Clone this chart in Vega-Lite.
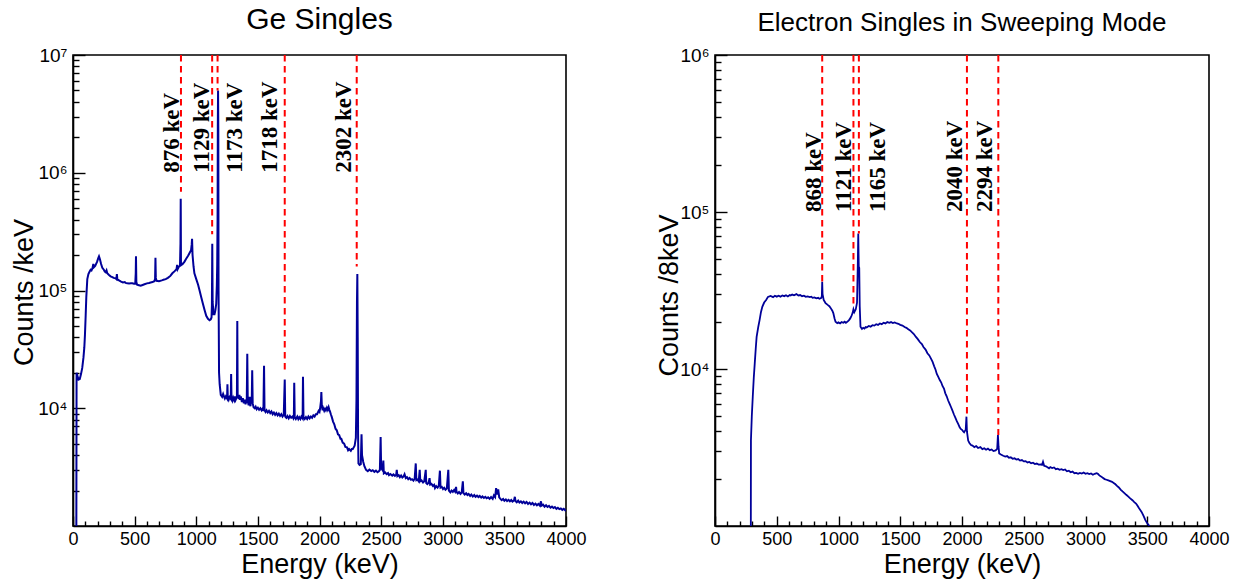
{
  "$schema": "https://vega.github.io/schema/vega-lite/v6.json",
  "autosize": {"type": "pad"},
  "padding": {"left": 9, "top": 3, "right": 5, "bottom": 5},
  "background": "white",
  "spacing": 149,
  "bounds": "flush",
  "config": {
    "view": {"stroke": "black", "strokeWidth": 1.6},
    "font": "Liberation Sans",
    "axis": {
      "grid": false,
      "domainColor": "black",
      "domainWidth": 1.6,
      "tickColor": "black",
      "tickWidth": 1.4,
      "labelColor": "black",
      "labelFont": "Liberation Sans",
      "labelFontSize": 18,
      "labelOverlap": false,
      "labelFlush": false,
      "titleColor": "black",
      "titleFont": "Liberation Sans",
      "titleFontSize": 27,
      "titleFontWeight": "normal"
    }
  },
  "datasets": {
    "ge": [
      {"E":27,"c":800},{"E":29,"c":20000},{"E":35,"c":19000},{"E":45,"c":17500},{"E":55,"c":17700},{"E":65,"c":19500},{"E":75,"c":22000},{"E":85,"c":27000},{"E":92,"c":33000},{"E":97,"c":42000},{"E":103,"c":62000},{"E":108,"c":88000},{"E":116,"c":125000},{"E":125,"c":138000},{"E":135,"c":145000},{"E":143,"c":150000},{"E":150,"c":148000},{"E":158,"c":155000},{"E":165,"c":168000},{"E":170,"c":158000},{"E":180,"c":162000},{"E":195,"c":175000},{"E":205,"c":188000},{"E":211,"c":195000},{"E":218,"c":185000},{"E":228,"c":168000},{"E":238,"c":156000},{"E":250,"c":150000},{"E":258,"c":145000},{"E":265,"c":143000},{"E":272,"c":148000},{"E":278,"c":140000},{"E":290,"c":136000},{"E":305,"c":132000},{"E":319,"c":130000},{"E":330,"c":128000},{"E":345,"c":127000},{"E":352,"c":125000},{"E":356,"c":138000},{"E":360,"c":124000},{"E":373,"c":122000},{"E":390,"c":119000},{"E":405,"c":117000},{"E":420,"c":118000},{"E":427,"c":116000},{"E":440,"c":115000},{"E":455,"c":114500},{"E":470,"c":115000},{"E":481,"c":115000},{"E":495,"c":114000},{"E":505,"c":114000},{"E":509,"c":140000},{"E":511,"c":195000},{"E":514,"c":118000},{"E":520,"c":112000},{"E":535,"c":111000},{"E":549,"c":110000},{"E":565,"c":111500},{"E":580,"c":113000},{"E":600,"c":115000},{"E":617,"c":116000},{"E":630,"c":117000},{"E":645,"c":118000},{"E":660,"c":120000},{"E":666,"c":125000},{"E":669,"c":190000},{"E":672,"c":128000},{"E":678,"c":121000},{"E":698,"c":120000},{"E":720,"c":122000},{"E":740,"c":124000},{"E":752,"c":125000},{"E":770,"c":128000},{"E":790,"c":133000},{"E":806,"c":140000},{"E":825,"c":146000},{"E":840,"c":152000},{"E":845,"c":165000},{"E":849,"c":152000},{"E":860,"c":160000},{"E":868,"c":162000},{"E":872,"c":250000},{"E":874,"c":600000},{"E":876,"c":170000},{"E":880,"c":165000},{"E":890,"c":168000},{"E":905,"c":176000},{"E":917,"c":185000},{"E":935,"c":198000},{"E":950,"c":212000},{"E":958,"c":220000},{"E":963,"c":245000},{"E":966,"c":275000},{"E":970,"c":200000},{"E":978,"c":160000},{"E":985,"c":140000},{"E":1000,"c":125000},{"E":1015,"c":112000},{"E":1027,"c":100000},{"E":1040,"c":88000},{"E":1054,"c":77000},{"E":1068,"c":68000},{"E":1081,"c":61000},{"E":1095,"c":57500},{"E":1108,"c":56000},{"E":1118,"c":57000},{"E":1124,"c":59000},{"E":1127,"c":75000},{"E":1130,"c":250000},{"E":1133,"c":80000},{"E":1140,"c":63000},{"E":1148,"c":63000},{"E":1155,"c":68000},{"E":1162,"c":77000},{"E":1167,"c":110000},{"E":1170,"c":166000},{"E":1173,"c":400000},{"E":1175,"c":2500000},{"E":1177,"c":5000000},{"E":1179,"c":2400000},{"E":1181,"c":100000},{"E":1185,"c":20000},{"E":1190,"c":16000},{"E":1199,"c":13000},{"E":1210,"c":12500},{"E":1218,"c":13200},{"E":1225,"c":12600},{"E":1232,"c":12100},{"E":1240,"c":12600},{"E":1250,"c":12100},{"E":1253,"c":16000},{"E":1256,"c":12300},{"E":1263,"c":11800},{"E":1270,"c":12400},{"E":1280,"c":12000},{"E":1283,"c":19500},{"E":1286,"c":12200},{"E":1293,"c":11600},{"E":1300,"c":12300},{"E":1308,"c":11700},{"E":1315,"c":12600},{"E":1320,"c":11800},{"E":1330,"c":12500},{"E":1333,"c":55000},{"E":1336,"c":13000},{"E":1345,"c":12000},{"E":1350,"c":13000},{"E":1355,"c":11800},{"E":1362,"c":12600},{"E":1370,"c":11300},{"E":1378,"c":12200},{"E":1386,"c":11000},{"E":1393,"c":11800},{"E":1400,"c":10800},{"E":1410,"c":12000},{"E":1414,"c":29000},{"E":1418,"c":11500},{"E":1425,"c":10600},{"E":1430,"c":12500},{"E":1435,"c":11000},{"E":1440,"c":10400},{"E":1446,"c":12500},{"E":1450,"c":11000},{"E":1454,"c":21000},{"E":1458,"c":11000},{"E":1465,"c":10200},{"E":1474,"c":10000},{"E":1482,"c":10300},{"E":1490,"c":9800},{"E":1500,"c":10100},{"E":1510,"c":9700},{"E":1520,"c":10000},{"E":1530,"c":9600},{"E":1538,"c":9900},{"E":1545,"c":9500},{"E":1550,"c":23000},{"E":1554,"c":9600},{"E":1562,"c":9300},{"E":1570,"c":9600},{"E":1580,"c":9200},{"E":1590,"c":9500},{"E":1600,"c":9100},{"E":1610,"c":9400},{"E":1620,"c":8900},{"E":1630,"c":9200},{"E":1640,"c":8800},{"E":1650,"c":9100},{"E":1660,"c":8700},{"E":1670,"c":9000},{"E":1680,"c":8600},{"E":1690,"c":8900},{"E":1700,"c":8500},{"E":1710,"c":8800},{"E":1718,"c":17500},{"E":1722,"c":8500},{"E":1731,"c":8300},{"E":1740,"c":8600},{"E":1750,"c":8200},{"E":1760,"c":8600},{"E":1770,"c":8300},{"E":1780,"c":8500},{"E":1788,"c":8200},{"E":1792,"c":8500},{"E":1795,"c":16500},{"E":1799,"c":8400},{"E":1808,"c":8100},{"E":1820,"c":8500},{"E":1828,"c":8100},{"E":1836,"c":8400},{"E":1845,"c":8100},{"E":1853,"c":8500},{"E":1863,"c":8200},{"E":1866,"c":18500},{"E":1870,"c":8400},{"E":1880,"c":8100},{"E":1890,"c":8400},{"E":1900,"c":8100},{"E":1910,"c":8500},{"E":1920,"c":8200},{"E":1930,"c":8500},{"E":1940,"c":8300},{"E":1950,"c":8700},{"E":1960,"c":8500},{"E":1970,"c":8900},{"E":1980,"c":8900},{"E":1993,"c":9500},{"E":2000,"c":9300},{"E":2005,"c":10000},{"E":2012,"c":11500},{"E":2015,"c":13700},{"E":2019,"c":10500},{"E":2025,"c":9600},{"E":2030,"c":10000},{"E":2038,"c":9500},{"E":2045,"c":9900},{"E":2052,"c":9600},{"E":2060,"c":10100},{"E":2067,"c":9700},{"E":2074,"c":10200},{"E":2080,"c":9700},{"E":2085,"c":9400},{"E":2092,"c":8900},{"E":2100,"c":8400},{"E":2110,"c":7700},{"E":2120,"c":7300},{"E":2130,"c":6700},{"E":2140,"c":6500},{"E":2150,"c":6000},{"E":2160,"c":5900},{"E":2170,"c":5500},{"E":2177,"c":5500},{"E":2188,"c":5100},{"E":2200,"c":5000},{"E":2210,"c":4700},{"E":2223,"c":4650},{"E":2232,"c":4400},{"E":2240,"c":4500},{"E":2254,"c":4350},{"E":2262,"c":4500},{"E":2270,"c":4500},{"E":2280,"c":4700},{"E":2285,"c":4800},{"E":2295,"c":5600},{"E":2300,"c":12000},{"E":2304,"c":80000},{"E":2307,"c":138000},{"E":2310,"c":40000},{"E":2313,"c":6000},{"E":2316,"c":3400},{"E":2325,"c":3300},{"E":2335,"c":3350},{"E":2341,"c":6000},{"E":2345,"c":4000},{"E":2355,"c":3500},{"E":2365,"c":3200},{"E":2378,"c":3000},{"E":2392,"c":2920},{"E":2405,"c":3010},{"E":2420,"c":2930},{"E":2432,"c":2980},{"E":2445,"c":2880},{"E":2458,"c":2950},{"E":2470,"c":2860},{"E":2482,"c":2920},{"E":2490,"c":3000},{"E":2496,"c":5700},{"E":2500,"c":3200},{"E":2506,"c":3050},{"E":2512,"c":2980},{"E":2518,"c":3600},{"E":2522,"c":2800},{"E":2532,"c":2850},{"E":2545,"c":2760},{"E":2556,"c":2820},{"E":2564,"c":2700},{"E":2575,"c":2760},{"E":2590,"c":2680},{"E":2600,"c":2740},{"E":2612,"c":2660},{"E":2622,"c":2720},{"E":2627,"c":3000},{"E":2632,"c":2650},{"E":2643,"c":2700},{"E":2652,"c":2600},{"E":2662,"c":2680},{"E":2672,"c":2580},{"E":2682,"c":2640},{"E":2690,"c":2750},{"E":2700,"c":2550},{"E":2710,"c":2600},{"E":2720,"c":2500},{"E":2731,"c":2560},{"E":2742,"c":2470},{"E":2751,"c":2500},{"E":2762,"c":2430},{"E":2772,"c":2520},{"E":2781,"c":3400},{"E":2786,"c":2450},{"E":2795,"c":2480},{"E":2805,"c":2400},{"E":2813,"c":3000},{"E":2818,"c":2400},{"E":2828,"c":2440},{"E":2840,"c":2340},{"E":2850,"c":2400},{"E":2862,"c":3000},{"E":2866,"c":2320},{"E":2875,"c":2270},{"E":2885,"c":2330},{"E":2893,"c":2550},{"E":2898,"c":2250},{"E":2908,"c":2280},{"E":2920,"c":2190},{"E":2930,"c":2240},{"E":2937,"c":2100},{"E":2947,"c":2180},{"E":2958,"c":2120},{"E":2968,"c":2200},{"E":2977,"c":2950},{"E":2982,"c":2120},{"E":2992,"c":2150},{"E":3002,"c":2060},{"E":3012,"c":2110},{"E":3022,"c":2030},{"E":3033,"c":2080},{"E":3045,"c":3000},{"E":3050,"c":2000},{"E":3062,"c":1930},{"E":3072,"c":2000},{"E":3082,"c":1950},{"E":3092,"c":2020},{"E":3100,"c":1960},{"E":3108,"c":2150},{"E":3112,"c":1950},{"E":3122,"c":1890},{"E":3132,"c":1940},{"E":3144,"c":1870},{"E":3154,"c":1930},{"E":3163,"c":2400},{"E":3168,"c":1900},{"E":3178,"c":1850},{"E":3190,"c":1900},{"E":3200,"c":1830},{"E":3210,"c":1870},{"E":3222,"c":1800},{"E":3232,"c":1850},{"E":3244,"c":1780},{"E":3256,"c":1830},{"E":3266,"c":1770},{"E":3278,"c":1810},{"E":3290,"c":1760},{"E":3300,"c":1800},{"E":3312,"c":1740},{"E":3322,"c":1780},{"E":3334,"c":1730},{"E":3345,"c":1770},{"E":3356,"c":1720},{"E":3368,"c":1750},{"E":3380,"c":1700},{"E":3392,"c":1760},{"E":3405,"c":1700},{"E":3415,"c":1820},{"E":3425,"c":1760},{"E":3433,"c":2100},{"E":3440,"c":1850},{"E":3447,"c":1950},{"E":3450,"c":2050},{"E":3458,"c":1750},{"E":3468,"c":1700},{"E":3478,"c":1660},{"E":3490,"c":1700},{"E":3500,"c":1640},{"E":3512,"c":1680},{"E":3522,"c":1630},{"E":3534,"c":1670},{"E":3545,"c":1620},{"E":3556,"c":1660},{"E":3566,"c":1610},{"E":3578,"c":1650},{"E":3585,"c":1770},{"E":3590,"c":1630},{"E":3600,"c":1590},{"E":3612,"c":1640},{"E":3622,"c":1580},{"E":3634,"c":1620},{"E":3645,"c":1570},{"E":3656,"c":1610},{"E":3668,"c":1560},{"E":3680,"c":1600},{"E":3692,"c":1540},{"E":3704,"c":1580},{"E":3716,"c":1530},{"E":3728,"c":1570},{"E":3740,"c":1510},{"E":3752,"c":1550},{"E":3764,"c":1500},{"E":3776,"c":1540},{"E":3788,"c":1490},{"E":3797,"c":1620},{"E":3802,"c":1490},{"E":3814,"c":1520},{"E":3826,"c":1460},{"E":3838,"c":1500},{"E":3850,"c":1450},{"E":3862,"c":1480},{"E":3874,"c":1430},{"E":3886,"c":1460},{"E":3898,"c":1420},{"E":3910,"c":1450},{"E":3922,"c":1400},{"E":3934,"c":1430},{"E":3946,"c":1390},{"E":3958,"c":1410},{"E":3970,"c":1370},{"E":3982,"c":1400},{"E":3994,"c":1360},{"E":4000,"c":1380}
    ],
    "el": [
      {"E":290,"c":800},{"E":291,"c":3500},{"E":298,"c":5000},{"E":306,"c":6700},{"E":314,"c":8800},{"E":322,"c":10900},{"E":330,"c":13500},{"E":337,"c":16000},{"E":350,"c":18500},{"E":361,"c":20500},{"E":372,"c":23000},{"E":383,"c":24900},{"E":398,"c":26500},{"E":414,"c":27500},{"E":429,"c":28800},{"E":450,"c":29200},{"E":470,"c":28700},{"E":485,"c":29300},{"E":500,"c":28900},{"E":515,"c":29300},{"E":530,"c":28900},{"E":545,"c":29400},{"E":560,"c":29100},{"E":575,"c":29500},{"E":590,"c":29000},{"E":605,"c":29600},{"E":613,"c":29400},{"E":625,"c":29800},{"E":640,"c":29500},{"E":659,"c":30000},{"E":675,"c":29400},{"E":690,"c":29600},{"E":705,"c":29100},{"E":720,"c":29300},{"E":735,"c":28800},{"E":750,"c":29000},{"E":767,"c":28700},{"E":780,"c":28900},{"E":790,"c":28400},{"E":805,"c":28600},{"E":820,"c":28200},{"E":835,"c":28400},{"E":845,"c":28000},{"E":859,"c":28300},{"E":865,"c":29000},{"E":868,"c":36000},{"E":871,"c":30000},{"E":880,"c":27500},{"E":895,"c":26300},{"E":905,"c":25900},{"E":915,"c":25500},{"E":926,"c":25100},{"E":936,"c":24500},{"E":950,"c":23500},{"E":958,"c":22700},{"E":968,"c":21000},{"E":976,"c":20000},{"E":990,"c":19600},{"E":1000,"c":19800},{"E":1013,"c":19500},{"E":1025,"c":19900},{"E":1040,"c":19700},{"E":1050,"c":20000},{"E":1060,"c":19700},{"E":1075,"c":20100},{"E":1085,"c":20500},{"E":1095,"c":21000},{"E":1105,"c":21800},{"E":1114,"c":22700},{"E":1121,"c":24000},{"E":1128,"c":23000},{"E":1140,"c":24000},{"E":1150,"c":26500},{"E":1156,"c":45000},{"E":1160,"c":73000},{"E":1164,"c":45000},{"E":1168,"c":44000},{"E":1172,"c":25000},{"E":1178,"c":18600},{"E":1190,"c":18000},{"E":1200,"c":18300},{"E":1210,"c":18100},{"E":1220,"c":18500},{"E":1228,"c":18400},{"E":1245,"c":18800},{"E":1260,"c":18600},{"E":1275,"c":19000},{"E":1290,"c":18900},{"E":1305,"c":19300},{"E":1320,"c":19100},{"E":1335,"c":19500},{"E":1350,"c":19300},{"E":1365,"c":19700},{"E":1380,"c":19500},{"E":1395,"c":19900},{"E":1412,"c":19700},{"E":1425,"c":19900},{"E":1440,"c":19600},{"E":1455,"c":19800},{"E":1473,"c":19500},{"E":1485,"c":19400},{"E":1500,"c":19100},{"E":1518,"c":18900},{"E":1535,"c":18500},{"E":1550,"c":18300},{"E":1565,"c":17900},{"E":1580,"c":17600},{"E":1596,"c":17100},{"E":1610,"c":16700},{"E":1627,"c":16000},{"E":1642,"c":15500},{"E":1660,"c":14800},{"E":1675,"c":14400},{"E":1688,"c":13800},{"E":1705,"c":13300},{"E":1720,"c":12600},{"E":1735,"c":12200},{"E":1750,"c":11600},{"E":1762,"c":11100},{"E":1775,"c":10400},{"E":1786,"c":9900},{"E":1796,"c":9300},{"E":1808,"c":8900},{"E":1820,"c":8500},{"E":1832,"c":8200},{"E":1842,"c":7800},{"E":1854,"c":7500},{"E":1865,"c":7000},{"E":1876,"c":6700},{"E":1888,"c":6300},{"E":1900,"c":6000},{"E":1910,"c":5750},{"E":1922,"c":5450},{"E":1934,"c":5150},{"E":1946,"c":4900},{"E":1958,"c":4650},{"E":1970,"c":4450},{"E":1981,"c":4250},{"E":1990,"c":4150},{"E":2000,"c":4100},{"E":2010,"c":4000},{"E":2017,"c":3950},{"E":2025,"c":4050},{"E":2030,"c":4100},{"E":2036,"c":4970},{"E":2040,"c":4000},{"E":2050,"c":3500},{"E":2060,"c":3380},{"E":2073,"c":3280},{"E":2085,"c":3250},{"E":2100,"c":3180},{"E":2115,"c":3230},{"E":2130,"c":3140},{"E":2149,"c":3180},{"E":2165,"c":3090},{"E":2180,"c":3130},{"E":2195,"c":3060},{"E":2210,"c":3110},{"E":2225,"c":3040},{"E":2240,"c":3070},{"E":2255,"c":3000},{"E":2272,"c":3030},{"E":2285,"c":3100},{"E":2291,"c":3800},{"E":2296,"c":3200},{"E":2301,"c":2900},{"E":2315,"c":2850},{"E":2334,"c":2800},{"E":2350,"c":2770},{"E":2365,"c":2790},{"E":2380,"c":2720},{"E":2395,"c":2740},{"E":2410,"c":2680},{"E":2425,"c":2700},{"E":2440,"c":2650},{"E":2455,"c":2670},{"E":2470,"c":2610},{"E":2485,"c":2630},{"E":2500,"c":2580},{"E":2515,"c":2590},{"E":2530,"c":2540},{"E":2545,"c":2560},{"E":2560,"c":2510},{"E":2575,"c":2530},{"E":2590,"c":2480},{"E":2605,"c":2500},{"E":2620,"c":2460},{"E":2635,"c":2470},{"E":2648,"c":2450},{"E":2656,"c":2560},{"E":2665,"c":2420},{"E":2680,"c":2400},{"E":2695,"c":2360},{"E":2705,"c":2330},{"E":2715,"c":2370},{"E":2730,"c":2340},{"E":2745,"c":2360},{"E":2760,"c":2300},{"E":2775,"c":2320},{"E":2790,"c":2280},{"E":2805,"c":2300},{"E":2820,"c":2270},{"E":2835,"c":2290},{"E":2850,"c":2230},{"E":2865,"c":2250},{"E":2880,"c":2200},{"E":2895,"c":2220},{"E":2910,"c":2170},{"E":2925,"c":2180},{"E":2940,"c":2150},{"E":2955,"c":2180},{"E":2970,"c":2160},{"E":2985,"c":2190},{"E":3000,"c":2150},{"E":3015,"c":2170},{"E":3030,"c":2140},{"E":3045,"c":2160},{"E":3060,"c":2120},{"E":3075,"c":2150},{"E":3090,"c":2170},{"E":3100,"c":2150},{"E":3112,"c":2100},{"E":3125,"c":2070},{"E":3140,"c":2030},{"E":3155,"c":1990},{"E":3170,"c":1970},{"E":3185,"c":1950},{"E":3200,"c":1930},{"E":3215,"c":1910},{"E":3228,"c":1880},{"E":3240,"c":1850},{"E":3255,"c":1800},{"E":3270,"c":1760},{"E":3286,"c":1700},{"E":3300,"c":1660},{"E":3315,"c":1620},{"E":3330,"c":1580},{"E":3347,"c":1540},{"E":3362,"c":1500},{"E":3380,"c":1460},{"E":3395,"c":1420},{"E":3409,"c":1390},{"E":3420,"c":1350},{"E":3430,"c":1310},{"E":3442,"c":1270},{"E":3454,"c":1230},{"E":3470,"c":1160},{"E":3485,"c":1090},{"E":3500,"c":1040},{"E":3517,"c":1000},{"E":3530,"c":950}
    ],
    "geLines": [
      {"E":876,"top":10000000,"bot":690000,"lx":860,"label":"876 keV"},
      {"E":1129,"top":10000000,"bot":300000,"lx":1103,"label":"1129 keV"},
      {"E":1173,"top":10000000,"bot":5000000,"lx":1374,"label":"1173 keV"},
      {"E":1718,"top":10000000,"bot":21000,"lx":1658,"label":"1718 keV"},
      {"E":2302,"top":10000000,"bot":160000,"lx":2253,"label":"2302 keV"}
    ],
    "elLines": [
      {"E":868,"top":1000000,"bot":36000,"lx":856,"label":"868 keV"},
      {"E":1121,"top":1000000,"bot":25000,"lx":1101,"label":"1121 keV"},
      {"E":1165,"top":1000000,"bot":73000,"lx":1377,"label":"1165 keV"},
      {"E":2040,"top":1000000,"bot":4900,"lx":2000,"label":"2040 keV"},
      {"E":2294,"top":1000000,"bot":3800,"lx":2243,"label":"2294 keV"}
    ]
  },
  "hconcat": [
    {
      "width": 493,
      "height": 471,
      "title": {"text": "Ge Singles", "fontSize": 30, "font": "Liberation Sans", "fontWeight": "normal", "color": "black", "anchor": "middle", "frame": "group", "baseline": "alphabetic", "offset": -12.5},
      "resolve": {"axis": {"x": "independent", "y": "independent"}},
      "layer": [
        {
          "data": {"name": "ge"},
          "mark": {"type": "line", "color": "#000099", "strokeWidth": 2, "clip": true},
          "encoding": {
            "x": {"field": "E", "type": "quantitative",
              "scale": {"domain": [0, 4000], "nice": false, "zero": false},
              "axis": {"orient": "bottom", "title": "Energy (keV)", "titleY": 46, "titleBaseline": "alphabetic",
                "values": [0,500,1000,1500,2000,2500,3000,3500,4000],
                "format": "d",
                "tickSize": -10,
                "labelPadding": 14, "labelBaseline": "top"}},
            "y": {"field": "c", "type": "quantitative",
              "scale": {"type": "log", "domain": [1000, 10000000], "nice": false},
              "axis": {"orient": "left", "title": "Counts /keV", "titleX": -41, "titleY": 237, "titleBaseline": "alphabetic", "titleAlign": "center", "titleAngle": 270,
                "values": [10000,100000,1000000,10000000],
                "labelExpr": "datum.value === 10000 ? '10⁴' : datum.value === 100000 ? '10⁵' : datum.value === 1000000 ? '10⁶' : '10⁷'",
                "labelFontSize": 19,
                "tickSize": -12,
                "labelPadding": 18, "labelBaseline": "middle"}}
          }
        },
        {
          "data": {"name": "geLines"},
          "mark": {"type": "rule", "color": "#ff0000", "strokeDash": [6.5, 4.5], "strokeWidth": 2},
          "encoding": {
            "x": {"field": "E", "type": "quantitative",
              "axis": {"orient": "bottom", "title": null, "labels": false, "domain": false, "tickSize": -5,
                "values": [100,200,300,400,600,700,800,900,1100,1200,1300,1400,1600,1700,1800,1900,2100,2200,2300,2400,2600,2700,2800,2900,3100,3200,3300,3400,3600,3700,3800,3900]}},
            "y": {"field": "top", "type": "quantitative",
              "axis": {"orient": "left", "title": null, "labels": false, "domain": false, "tickSize": -6,
                "values": [2000,3000,4000,5000,6000,7000,8000,9000,20000,30000,40000,50000,60000,70000,80000,90000,200000,300000,400000,500000,600000,700000,800000,900000,2000000,3000000,4000000,5000000,6000000,7000000,8000000,9000000]}},
            "y2": {"field": "bot"}
          }
        },
        {
          "data": {"name": "geLines"},
          "mark": {"type": "text", "angle": 270, "align": "left", "baseline": "alphabetic", "font": "Liberation Serif", "fontWeight": "bold", "fontSize": 23, "color": "black"},
          "encoding": {
            "x": {"field": "lx", "type": "quantitative", "axis": null},
            "y": {"datum": 1000000, "type": "quantitative", "axis": null},
            "text": {"field": "label"}
          }
        }
      ]
    },
    {
      "width": 494,
      "height": 471,
      "title": {"text": "Electron Singles in Sweeping Mode", "fontSize": 26, "font": "Liberation Sans", "fontWeight": "normal", "color": "black", "anchor": "middle", "frame": "group", "baseline": "alphabetic", "offset": -11},
      "resolve": {"axis": {"x": "independent", "y": "independent"}},
      "layer": [
        {
          "data": {"name": "el"},
          "mark": {"type": "line", "color": "#000099", "strokeWidth": 1.8, "clip": true},
          "encoding": {
            "x": {"field": "E", "type": "quantitative",
              "scale": {"domain": [0, 4000], "nice": false, "zero": false},
              "axis": {"orient": "bottom", "title": "Energy (keV)", "titleY": 46, "titleBaseline": "alphabetic",
                "values": [0,500,1000,1500,2000,2500,3000,3500,4000],
                "format": "d",
                "tickSize": -10,
                "labelPadding": 14, "labelBaseline": "top"}},
            "y": {"field": "c", "type": "quantitative",
              "scale": {"type": "log", "domain": [1000, 1000000], "nice": false},
              "axis": {"orient": "left", "title": "Counts /8keV", "titleX": -38, "titleY": 240, "titleBaseline": "alphabetic", "titleAlign": "center", "titleAngle": 270,
                "values": [10000,100000,1000000],
                "labelExpr": "datum.value === 10000 ? '10⁴' : datum.value === 100000 ? '10⁵' : '10⁶'",
                "labelFontSize": 19,
                "tickSize": -12,
                "labelPadding": 18, "labelBaseline": "middle"}}
          }
        },
        {
          "data": {"name": "elLines"},
          "mark": {"type": "rule", "color": "#ff0000", "strokeDash": [6.5, 4.5], "strokeWidth": 2},
          "encoding": {
            "x": {"field": "E", "type": "quantitative",
              "axis": {"orient": "bottom", "title": null, "labels": false, "domain": false, "tickSize": -5,
                "values": [100,200,300,400,600,700,800,900,1100,1200,1300,1400,1600,1700,1800,1900,2100,2200,2300,2400,2600,2700,2800,2900,3100,3200,3300,3400,3600,3700,3800,3900]}},
            "y": {"field": "top", "type": "quantitative",
              "axis": {"orient": "left", "title": null, "labels": false, "domain": false, "tickSize": -6,
                "values": [2000,3000,4000,5000,6000,7000,8000,9000,20000,30000,40000,50000,60000,70000,80000,90000,200000,300000,400000,500000,600000,700000,800000,900000]}},
            "y2": {"field": "bot"}
          }
        },
        {
          "data": {"name": "elLines"},
          "mark": {"type": "text", "angle": 270, "align": "left", "baseline": "alphabetic", "font": "Liberation Serif", "fontWeight": "bold", "fontSize": 23, "color": "black"},
          "encoding": {
            "x": {"field": "lx", "type": "quantitative", "axis": null},
            "y": {"datum": 100000, "type": "quantitative", "axis": null},
            "text": {"field": "label"}
          }
        }
      ]
    }
  ]
}
